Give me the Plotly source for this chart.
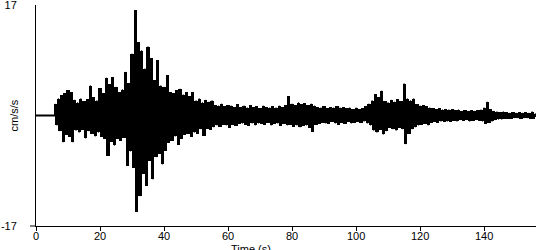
import plotly.graph_objects as go

# pre-event quiet record (s, cm/s/s)
pre_t = [0.0, 6.0]
pre_v = [0.0, 0.0]

# per-second envelope: start time, peak up, peak down
t0 = 6
peak_up = [1.8, 2.6, 3.1, 3.4, 3.9, 3.6, 2.4, 2.0, 2.6, 2.2,
           2.5, 4.6, 2.8, 2.3, 4.2, 3.4, 5.8, 4.8, 5.9, 4.4,
           3.6, 4.0, 6.7, 5.0, 9.5, 16.2, 11.3, 10.0, 7.2, 10.6,
           8.8, 5.4, 8.5, 4.6, 4.4, 6.2, 3.6, 3.4, 3.9, 4.1,
           3.2, 3.6, 3.0, 3.6, 2.3, 2.6, 2.0, 2.4, 2.1, 2.3,
           1.6, 1.5, 1.8, 1.4, 1.6, 1.5, 1.3, 1.7, 1.3, 1.5,
           1.2, 1.6, 1.3, 1.4, 1.1, 1.5, 1.3, 1.2, 1.4, 1.2,
           1.5, 1.3, 1.6, 3.0, 1.8, 1.6, 2.0, 1.7, 1.9, 1.6,
           1.8, 1.5, 1.3, 1.2, 1.4, 1.1, 1.3, 1.2, 1.4, 1.2,
           1.3, 1.1, 1.2, 1.0, 1.2, 1.0, 1.1, 1.4, 1.8, 2.3,
           3.3, 2.8, 3.8, 2.2, 2.0, 2.4, 2.1, 2.5, 2.2, 4.9,
           2.6, 2.3, 2.6, 1.7, 1.5, 1.6, 1.4, 1.2, 1.1, 1.0,
           1.1, 0.9, 1.0, 0.9, 1.0, 0.8, 0.9, 0.7, 0.8, 0.7,
           0.8, 0.7, 0.8, 0.9, 1.2, 2.1, 1.0, 0.7, 0.6, 0.5,
           0.6, 0.5, 0.4, 0.5, 0.4, 0.5, 0.4, 0.5, 0.4, 0.6,
           0.3]
peak_dn = [-1.5, -2.4, -4.1, -3.0, -3.3, -4.1, -2.3, -2.6, -2.2, -3.5,
           -2.4, -2.8, -3.2, -2.6, -3.3, -3.6, -6.2, -4.0, -4.6, -3.6,
           -3.9, -3.4, -7.7, -5.5, -8.0, -14.8, -12.4, -9.0, -10.8, -7.0,
           -9.8, -6.4, -5.9, -7.5, -5.4, -4.2, -3.9, -3.2, -4.5, -3.6,
           -3.0, -2.8, -3.3, -2.6, -2.8, -2.1, -3.1, -2.0, -2.2, -1.8,
           -1.5, -1.7, -1.4, -1.5, -1.9, -1.4, -1.6, -1.3, -1.2, -1.4,
           -1.6, -1.2, -1.5, -1.2, -1.3, -1.4, -1.1, -1.5, -1.3, -1.2,
           -1.6, -1.3, -1.5, -1.4, -1.7, -1.5, -1.8, -1.6, -1.5, -1.9,
           -2.5, -1.4, -1.3, -1.1, -1.2, -1.3, -1.0, -1.2, -1.4, -1.1,
           -1.3, -1.0, -1.2, -1.1, -1.0, -1.1, -0.9, -1.2, -1.5, -2.3,
           -2.6, -2.2, -2.9, -2.4, -1.9, -2.1, -2.3, -1.9, -2.1, -4.4,
           -2.8, -2.1, -1.8, -1.5, -1.4, -1.3, -1.5, -1.1, -1.0, -1.1,
           -0.9, -1.0, -0.9, -1.0, -0.8, -0.9, -0.7, -0.8, -0.7, -0.9,
           -0.8, -0.7, -0.8, -0.9, -1.3, -1.1, -0.9, -0.7, -0.6, -0.6,
           -0.5, -0.5, -0.5, -0.4, -0.4, -0.5, -0.4, -0.4, -0.5, -0.5,
           -0.3]

x_ticks = [0, 20, 40, 60, 80, 100, 120, 140]
y_ticks = [-17, 17]

t_up = [t0 + i for i in range(len(peak_up))]
t_dn = [t0 + i + 0.5 for i in range(len(peak_dn))]

FONT = "Liberation Sans, Arial, sans-serif"

fig = go.Figure()
fig.add_trace(go.Scatter(x=pre_t, y=pre_v, mode="lines",
                         line=dict(color="black", width=2), hoverinfo="skip"))
fig.add_trace(go.Bar(x=t_up, y=peak_up, width=1.0,
                     marker=dict(color="black", line=dict(width=0)), hoverinfo="skip"))
fig.add_trace(go.Bar(x=t_dn, y=peak_dn, width=1.0,
                     marker=dict(color="black", line=dict(width=0)), hoverinfo="skip"))
# spiky trace joining the peaks
xs, ys = [], []
for a, u, b, d in zip(t_up, peak_up, t_dn, peak_dn):
    xs += [a, b]
    ys += [u, d]
fig.add_trace(go.Scatter(x=xs, y=ys, mode="lines",
                         line=dict(color="black", width=1), hoverinfo="skip"))

fig.update_layout(
    width=550, height=250,
    margin=dict(l=36, r=14, t=5, b=24, autoexpand=False),
    paper_bgcolor="white", plot_bgcolor="white",
    showlegend=False, barmode="overlay", bargap=0,
    font=dict(family=FONT, size=11, color="black"),
    xaxis=dict(range=[0, 156.2], tickvals=x_ticks, ticktext=[str(v) for v in x_ticks],
               ticks="outside", ticklen=4, tickwidth=1, tickcolor="black",
               ticklabelstandoff=-4, automargin=False,
               showline=True, linecolor="black", linewidth=1,
               showgrid=False, zeroline=False, tickfont=dict(size=11)),
    yaxis=dict(range=[-17, 17], tickvals=y_ticks, ticktext=[str(v) for v in y_ticks],
               ticks="", ticklabelstandoff=16, ticklabeloverflow="allow",
               automargin=False,
               showline=True, linecolor="black", linewidth=1,
               showgrid=False, zeroline=False, tickfont=dict(size=11)),
)

fig.add_shape(type="line", xref="paper", yref="paper",
              x0=-6 / 499.7, x1=0, y0=0, y1=0,
              line=dict(color="black", width=1))

fig.add_annotation(text="cm/s/s", xref="paper", yref="paper", x=0, y=0.5,
                   xanchor="center", yanchor="middle",
                   xshift=-23, textangle=-90, showarrow=False,
                   font=dict(size=11, family=FONT))
fig.add_annotation(text="Time (s)", xref="paper", yref="paper", x=0.43, y=0,
                   yanchor="top", yshift=-15, showarrow=False,
                   font=dict(size=11, family=FONT))

fig.write_html("out.html")
